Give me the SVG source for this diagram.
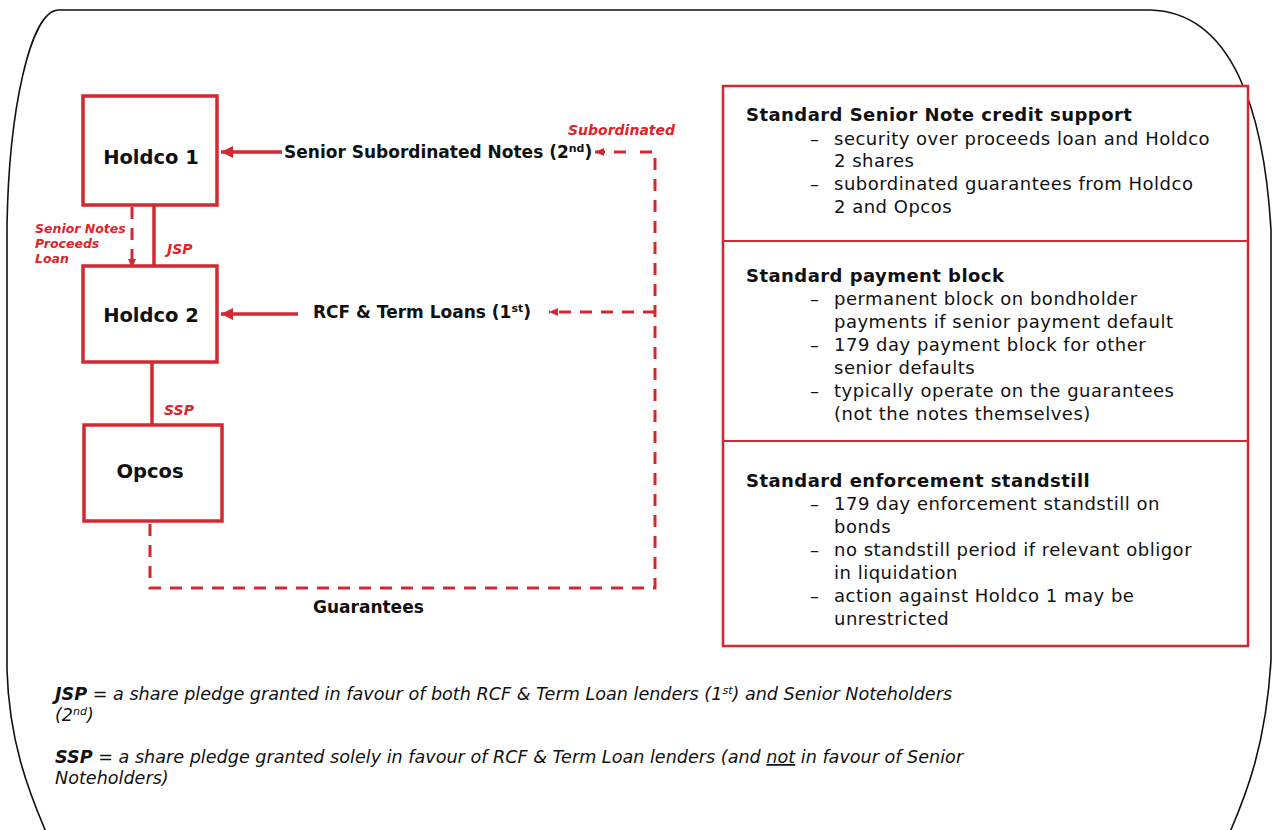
<svg xmlns="http://www.w3.org/2000/svg" width="1278" height="830" viewBox="0 0 1278 830">
<style>
.box{fill:#fff;stroke:#d3282f;stroke-width:3.5}
.panel{fill:#fff;stroke:#d3282f;stroke-width:2.5}
.node{font-family:"DejaVu Sans",Verdana,sans-serif;font-weight:bold;font-size:19.5px;fill:#111;text-anchor:middle}
.lbl{font-family:"DejaVu Sans",Verdana,sans-serif;font-weight:bold;font-size:17px;fill:#111}
.red{font-family:"DejaVu Sans",Verdana,sans-serif;font-weight:bold;font-style:italic;font-size:14px;fill:#e0232b}
.rs{font-family:"DejaVu Sans",Verdana,sans-serif;font-weight:bold;font-style:italic;font-size:12.5px;fill:#e0232b}
.h{font-family:"DejaVu Sans",Verdana,sans-serif;font-weight:bold;font-size:18px;letter-spacing:0.45px;fill:#111}
.b{font-family:"DejaVu Sans",Verdana,sans-serif;font-size:18px;letter-spacing:0.5px;fill:#111}
.f{font-family:"DejaVu Sans",Verdana,sans-serif;font-style:italic;font-size:17.6px;fill:#111}
.solid{fill:none;stroke:#d3282f;stroke-width:3.5}
.dash{fill:none;stroke:#d3282f;stroke-width:3;stroke-dasharray:12 9}
</style>
<defs>
<marker id="ah" markerUnits="userSpaceOnUse" markerWidth="14" markerHeight="14" refX="12" refY="7" orient="auto">
<path d="M0,1 L12,7 L0,13 Z" fill="#d3282f"/>
</marker>
<marker id="ahs" markerUnits="userSpaceOnUse" markerWidth="10" markerHeight="10" refX="9" refY="5" orient="auto">
<path d="M0,1 L9,5 L0,9 Z" fill="#d3282f"/>
</marker>
</defs>
<rect width="1278" height="830" fill="#fff"/>
<path id="frame" d="M46 832 C28 790 9 740 7 670 L7 225 C9 110 30 12 58 10 L1150 10 C1232 12 1264 110 1271 230 L1271 660 C1266 745 1246 795 1230 832" fill="none" stroke="#111" stroke-width="1.6"/>

<g id="connectors">
<path class="solid" d="M282 152 L221 152" marker-end="url(#ah)"/>
<path class="solid" d="M298 314 L221 314" marker-end="url(#ah)"/>
<path class="solid" d="M154 205 L154 266"/>
<path class="solid" d="M152 362 L152 425"/>
<path class="dash" d="M132 207 L132 268" marker-end="url(#ahs)" stroke-dasharray="12 6"/>
<path class="dash" d="M150 524 L150 588 L655 588 L655 152 L634 152"/>
<path class="dash" d="M626 152 L595 152" stroke-dasharray="12 9" marker-end="url(#ahs)"/>
<path class="dash" d="M655 312 L549 312" marker-end="url(#ahs)"/>
</g>

<g id="holdco1"><rect class="box" x="83" y="96" width="134" height="109"/><text class="node" x="151" y="164">Holdco 1</text></g>
<g id="holdco2"><rect class="box" x="83" y="266" width="134" height="96"/><text class="node" x="151" y="322">Holdco 2</text></g>
<g id="opcos"><rect class="box" x="84" y="425" width="138" height="96"/><text class="node" x="150" y="478">Opcos</text></g>

<g id="labels">
<text class="lbl" x="284" y="158">Senior Subordinated Notes (2<tspan font-size="11" dy="-6">nd</tspan><tspan dy="6">)</tspan></text>
<text class="lbl" x="313" y="318" font-size="17.5">RCF &amp; Term Loans (1<tspan font-size="11" dy="-6">st</tspan><tspan dy="6">)</tspan></text>
<text class="lbl" x="313" y="613" font-size="19">Guarantees</text>
<text class="red" x="568" y="135">Subordinated</text>
<text class="red" x="167" y="254">JSP</text>
<text class="red" x="164" y="415">SSP</text>
<text class="rs" x="35" y="233">Senior Notes</text>
<text class="rs" x="35" y="248">Proceeds</text>
<text class="rs" x="35" y="263">Loan</text>
</g>

<g id="panel">
<rect class="panel" x="723" y="86" width="525" height="560"/>
<line x1="723" y1="241" x2="1248" y2="241" stroke="#d3282f" stroke-width="2"/>
<line x1="723" y1="441" x2="1248" y2="441" stroke="#d3282f" stroke-width="2"/>
<text class="h" x="746" y="121">Standard Senior Note credit support</text>
<text class="b" x="810" y="145">–</text><text class="b" x="834" y="145">security over proceeds loan and Holdco</text>
<text class="b" x="834" y="167">2 shares</text>
<text class="b" x="810" y="190">–</text><text class="b" x="834" y="190">subordinated guarantees from Holdco</text>
<text class="b" x="834" y="213">2 and Opcos</text>

<text class="h" x="746" y="282">Standard payment block</text>
<text class="b" x="810" y="305">–</text><text class="b" x="834" y="305">permanent block on bondholder</text>
<text class="b" x="834" y="328">payments if senior payment default</text>
<text class="b" x="810" y="351">–</text><text class="b" x="834" y="351">179 day payment block for other</text>
<text class="b" x="834" y="374">senior defaults</text>
<text class="b" x="810" y="397">–</text><text class="b" x="834" y="397">typically operate on the guarantees</text>
<text class="b" x="834" y="420">(not the notes themselves)</text>

<text class="h" x="746" y="487">Standard enforcement standstill</text>
<text class="b" x="810" y="510">–</text><text class="b" x="834" y="510">179 day enforcement standstill on</text>
<text class="b" x="834" y="533">bonds</text>
<text class="b" x="810" y="556">–</text><text class="b" x="834" y="556">no standstill period if relevant obligor</text>
<text class="b" x="834" y="579">in liquidation</text>
<text class="b" x="810" y="602">–</text><text class="b" x="834" y="602">action against Holdco 1 may be</text>
<text class="b" x="834" y="625">unrestricted</text>
</g>

<g id="footer">
<text class="f" x="55" y="700"><tspan font-weight="bold">JSP</tspan> = a share pledge granted in favour of both RCF &amp; Term Loan lenders (1<tspan font-size="11" dy="-6">st</tspan><tspan dy="6">) and Senior Noteholders</tspan></text>
<text class="f" x="55" y="721">(2<tspan font-size="11" dy="-6">nd</tspan><tspan dy="6">)</tspan></text>
<text class="f" x="55" y="763"><tspan font-weight="bold">SSP</tspan> = a share pledge granted solely in favour of RCF &amp; Term Loan lenders (and <tspan text-decoration="underline">not</tspan> in favour of Senior</text>
<text class="f" x="55" y="784">Noteholders)</text>
</g>
</svg>
